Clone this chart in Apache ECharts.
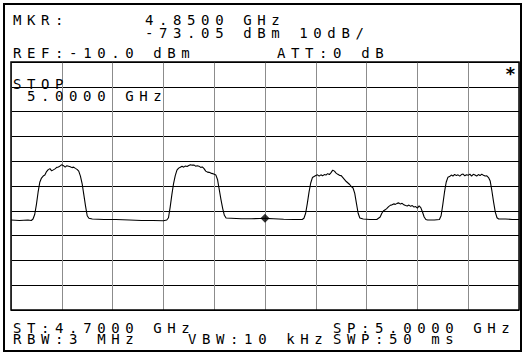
<!DOCTYPE html>
<html>
<head>
<meta charset="utf-8">
<script src="https://cdn.jsdelivr.net/npm/echarts@6/dist/echarts.min.js"></script>
<style>
  html, body { margin: 0; padding: 0; background: #fff; }
  #chart { width: 523px; height: 355px; }
  #chart text { letter-spacing: 5.6px; white-space: pre; }
</style>
</head>
<body>
<div id="chart"></div>
<script>
// Sweep: 4.700 – 5.000 GHz, reference level -10 dBm, 10 dB/div
const sweepStartMHz = 4700;
const sweepStopMHz = 5000;
const refLevelDbm = -10;
const bottomLevelDbm = -110;

// Trace samples (frequency in MHz, level in dBm)
const freqMHz = [
  4700, 4705, 4710, 4712, 4713, 4714, 4715, 4716, 4717, 4718, 4719, 4720,
  4721, 4722, 4723, 4724, 4725, 4726, 4727, 4728, 4729, 4730, 4731, 4732,
  4733, 4734, 4735, 4736, 4737, 4738, 4739, 4740, 4741, 4742, 4743, 4744,
  4745, 4746, 4748, 4755, 4762, 4770, 4777, 4784, 4790, 4792, 4793,
  4794, 4795, 4796, 4797, 4798, 4799, 4800, 4801, 4802, 4803, 4804, 4805,
  4806, 4807, 4808, 4809, 4810, 4811, 4812, 4813, 4814, 4815, 4816, 4817,
  4818, 4819, 4820, 4821, 4822, 4823, 4824, 4825, 4826, 4827, 4830, 4836,
  4842, 4847, 4850, 4855, 4861, 4867, 4872, 4873,
  4874, 4875, 4876, 4877, 4878, 4879, 4880, 4881, 4882, 4883, 4884, 4885,
  4886, 4887, 4888, 4889, 4890, 4891, 4892, 4893, 4894, 4895, 4896, 4897,
  4898, 4899, 4900, 4901, 4902, 4903, 4904, 4905, 4906, 4908, 4912, 4916,
  4918, 4919, 4920, 4921, 4922, 4923, 4924, 4925, 4926, 4927, 4928, 4929,
  4930, 4931, 4932, 4933, 4934, 4935, 4936, 4937, 4938, 4939, 4940, 4941,
  4942, 4943, 4944, 4945, 4946, 4950, 4953, 4954,
  4955, 4956, 4957, 4958, 4959, 4960, 4961, 4962, 4963, 4964, 4965, 4966,
  4967, 4968, 4969, 4970, 4971, 4972, 4973, 4974, 4975, 4976, 4977, 4978,
  4979, 4980, 4981, 4982, 4983, 4984, 4985, 4986, 4987, 4988, 4992, 4996,
  5000
];
const levelDbm = [
  -73.7, -73.9, -73.7, -73.9, -73.3, -71.5, -67.5, -62.5, -58.5, -56.8, -56.0, -55.6,
  -54.2, -53.4, -53.0, -53.9, -53.5, -53.1, -52.5, -52.3, -51.9, -51.4, -51.8, -52.4,
  -51.8, -52.0, -52.2, -52.6, -52.4, -52.9, -53.3, -54.0, -56.0, -59.0, -63.5, -68.0,
  -72.0, -73.0, -73.3, -73.5, -73.5, -73.7, -73.9, -73.9, -74.0, -73.7, -72.8,
  -68.5, -63.5, -59.0, -55.8, -53.6, -52.8, -52.4, -52.0, -52.4, -51.9, -52.1, -51.7,
  -51.4, -51.6, -51.5, -52.0, -51.8, -52.0, -52.5, -52.3, -53.0, -54.0, -54.4, -54.5,
  -54.8, -55.0, -55.3, -55.6, -57.5, -61.5, -65.5, -69.0, -71.8, -72.9, -73.0, -73.2,
  -73.2, -73.1, -73.05, -73.2, -73.4, -73.5, -73.5, -73.0,
  -71.0, -67.0, -62.5, -58.8, -56.6, -56.2, -55.8, -55.5, -56.0, -55.5, -55.9, -55.4,
  -55.6, -55.0, -55.4, -54.6, -53.6, -54.0, -54.8, -55.3, -55.7, -55.8, -56.6, -57.4,
  -58.2, -58.8, -59.4, -60.2, -60.8, -63.0, -67.0, -71.0, -72.9, -73.3, -73.5, -73.5,
  -72.5, -71.0, -70.0, -69.6, -69.0, -68.3, -67.8, -67.6, -67.2, -67.4, -67.0, -66.8,
  -67.3, -67.0, -67.6, -67.9, -68.1, -67.7, -68.2, -67.9, -68.5, -68.3, -68.9, -68.0,
  -68.7, -70.5, -72.5, -73.5, -73.7, -73.7, -73.5, -72.0,
  -67.5, -62.5, -58.5, -56.5, -56.2, -55.6, -56.0, -55.3, -55.8, -55.5, -56.0, -55.4,
  -55.2, -55.9, -55.5, -55.7, -55.2, -56.0, -55.3, -55.6, -56.0, -55.4, -55.8, -55.2,
  -55.7, -56.0, -55.9, -56.6, -58.0, -62.0, -66.5, -70.5, -72.8, -73.3, -73.3, -73.5,
  -73.5
];

// Marker readout
const markerFreqMHz = 4850;
const markerLevelDbm = -73.05;

// Annotation strings
const headerRow1 = ['MKR:', '4.8500 GHz'];
const headerRow2 = ['-73.05 dBm 10dB/'];
const headerRow3 = ['REF:-10.0 dBm', 'ATT:0 dB'];
const stopLabel = ['STOP', '5.0000 GHz'];
const footerRow1 = ['ST:4.7000 GHz', 'SP:5.0000 GHz'];
const footerRow2 = ['RBW:3 MHz', 'VBW:10 kHz', 'SWP:50 ms'];

const chart = echarts.init(document.getElementById('chart'), null, { renderer: 'svg' });

const FONT = '14px "DejaVu Sans Mono", monospace';
function label(text, x, y) {
  return {
    type: 'text', x: x, y: y, silent: true, z: 100,
    style: { text: text, font: FONT, fill: '#000', verticalAlign: 'bottom' }
  };
}

const pairs = freqMHz.map((f, i) => [f, levelDbm[i]]);

chart.setOption({
  animation: false,
  backgroundColor: '#fff',
  grid: { left: 11, top: 62, width: 508, height: 248, show: false },
  xAxis: {
    type: 'value', min: sweepStartMHz, max: sweepStopMHz, interval: 30,
    axisLine: { show: false }, axisTick: { show: false }, axisLabel: { show: false },
    splitLine: { show: true, lineStyle: { color: '#8c8c8c', width: 1 } }
  },
  yAxis: {
    type: 'value', min: bottomLevelDbm, max: refLevelDbm, interval: 10,
    axisLine: { show: false }, axisTick: { show: false }, axisLabel: { show: false },
    splitLine: { show: true, lineStyle: { color: '#000', width: 1.2 } }
  },
  series: [
    {
      type: 'line', data: pairs, showSymbol: false, symbol: 'none',
      lineStyle: { color: '#000', width: 1.1 }, z: 5
    },
    {
      type: 'scatter', data: [[markerFreqMHz, markerLevelDbm]],
      symbol: 'diamond', symbolSize: 9, itemStyle: { color: '#000' }, z: 6
    }
  ],
  graphic: [
    // outer frame and plot frame
    { type: 'rect', shape: { x: 4, y: 4, width: 517, height: 347 }, silent: true,
      style: { fill: 'none', stroke: '#000', lineWidth: 2 } },
    { type: 'rect', shape: { x: 11, y: 62, width: 508, height: 248 }, silent: true,
      style: { fill: 'none', stroke: '#000', lineWidth: 1.5 }, z: 50 },
    label(headerRow1[0], 13, 27),
    label(headerRow1[1], 145, 27),
    label(headerRow2[0], 145, 40),
    label(headerRow3[0], 13, 60),
    label(headerRow3[1], 277, 60),
    label(stopLabel[0], 13, 91),
    label(stopLabel[1], 27, 103),
    label(footerRow1[0], 13, 335),
    label(footerRow1[1], 333, 335),
    label(footerRow2[0], 13, 346),
    label(footerRow2[1], 188, 346),
    label(footerRow2[2], 333, 346),
    { type: 'text', x: 505, y: 64, silent: true, z: 100,
      style: { text: '*', font: 'bold 18px "DejaVu Sans Mono", monospace', fill: '#000' } }
  ]
});
</script>
</body>
</html>
